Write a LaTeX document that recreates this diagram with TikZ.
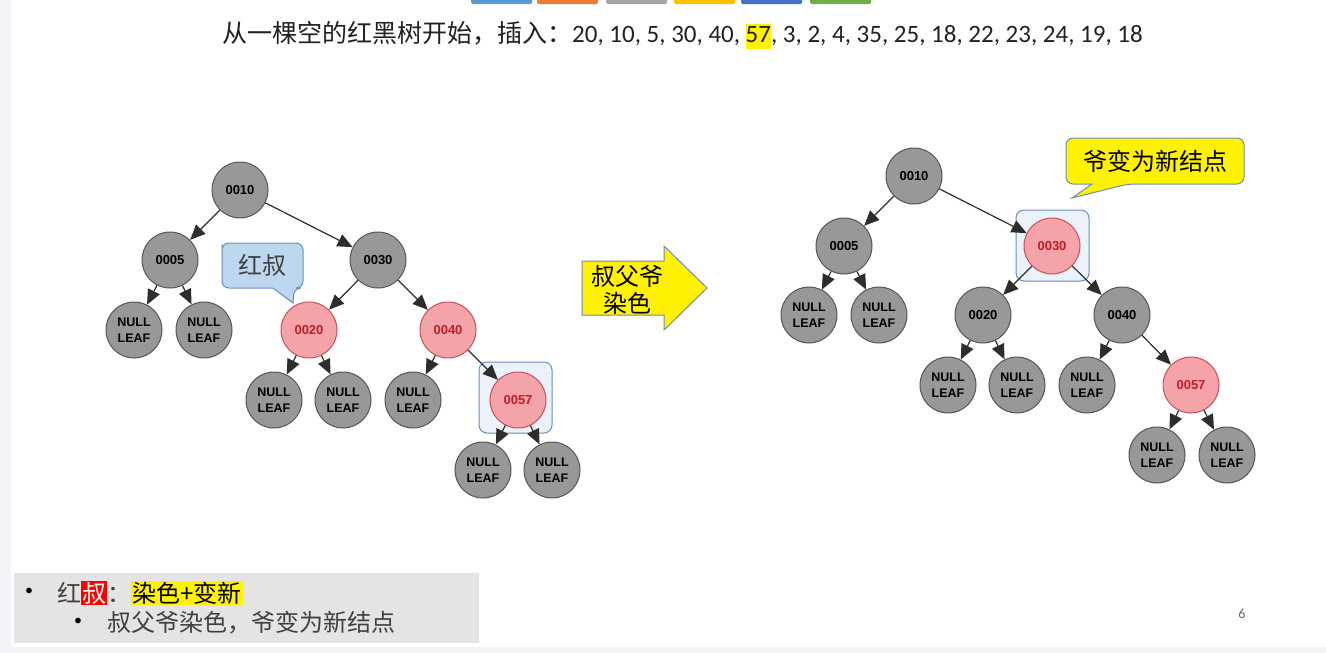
\documentclass[tikz,border=0pt]{standalone}
\usepackage{fontspec}
\setmainfont{Carlito}
\newfontfamily\cjk{Noto Sans CJK SC}
\newfontfamily\lblfont{Liberation Sans}
\usetikzlibrary{arrows.meta}
\definecolor{pagebg}{RGB}{242,244,248}
\definecolor{nodegray}{RGB}{152,152,152}
\definecolor{noderim}{RGB}{85,85,85}
\definecolor{redfill}{RGB}{244,163,168}
\definecolor{redrim}{RGB}{200,80,90}
\definecolor{redtext}{RGB}{190,30,40}
\definecolor{edgeclr}{RGB}{45,45,45}
\definecolor{hiblue}{RGB}{108,142,191}
\definecolor{hifill}{RGB}{236,242,250}
\definecolor{uncleblue}{RGB}{189,215,238}
\definecolor{boxgray}{RGB}{228,228,228}
\definecolor{txtgray}{RGB}{64,64,64}
\definecolor{tabA}{RGB}{91,155,213}\definecolor{tabB}{RGB}{237,125,49}
\definecolor{tabC}{RGB}{165,165,165}\definecolor{tabD}{RGB}{255,192,0}
\definecolor{tabE}{RGB}{68,114,196}\definecolor{tabF}{RGB}{112,173,71}
\begin{document}
\begin{tikzpicture}[x=1pt,y=-1pt,
  rbnode/.style={circle,draw=noderim,fill=nodegray,line width=1pt,minimum size=56pt,inner sep=0pt,align=center,font=\lblfont\bfseries\fontsize{13}{16}\selectfont},
  rednode/.style={rbnode,draw=redrim,fill=redfill,text=redtext},
  leaf/.style={rbnode,font=\lblfont\bfseries\fontsize{12.5}{15.5}\selectfont},
  edge/.style={draw=edgeclr,line width=1.2pt,-{Triangle[length=15pt,width=13pt]}},
  hibox/.style={draw=hiblue,fill=hifill,line width=1pt,rounded corners=8pt},
  cn/.style={inner sep=0pt,font=\cjk\fontsize{24}{27}\selectfont}]
\useasboundingbox(0,0)rectangle(1326,653);
\fill[pagebg](0,0)rectangle(1326,653);\fill[white](11,0)rectangle(1326,647);
\foreach \x/\c in {471/tabA,537/tabB,606/tabC,674/tabD,741/tabE,810/tabF}
  \fill[\c,rounded corners=1.5pt](\x,-3)rectangle+(61,7);
\node[anchor=west,inner sep=0pt,text=black!87,font=\fontsize{25}{28}\selectfont](title)at(222,35)
  {{\cjk 从一棵空的红黑树开始，插入：}20, 10, 5, 30, 40, {\fboxsep=0pt\colorbox{yellow}{\vrule height 18pt depth 7pt width 0pt 57}}, 3, 2, 4, 35, 25, 18, 22, 23, 24, 19, 18};
\draw[hibox](479,362)rectangle(552,433);
\draw[hibox](1016,210)rectangle(1089,281);
\node[rbnode](l10)at(240,190){0010};
\node[rbnode](l5)at(170,260){0005};\node[rbnode](l30)at(378,260){0030};
\node[rednode](l20)at(309,330){0020};\node[rednode](l40)at(448,330){0040};
\node[rednode](l57)at(518,400){0057};
\node[leaf](ln1)at(134,330){NULL\\LEAF};\node[leaf](ln2)at(204,330){NULL\\LEAF};
\node[leaf](ln3)at(274,400){NULL\\LEAF};\node[leaf](ln4)at(343,400){NULL\\LEAF};
\node[leaf](ln5)at(413,400){NULL\\LEAF};
\node[leaf](ln6)at(483,470){NULL\\LEAF};\node[leaf](ln7)at(552,470){NULL\\LEAF};
\foreach \p/\c in {l10/l5,l10/l30,l5/ln1,l5/ln2,l30/l20,l30/l40,l20/ln3,l20/ln4,l40/ln5,l40/l57,l57/ln6,l57/ln7}
  \draw[edge](\p)--(\c);
\node[rbnode](r10)at(914,176){0010};
\node[rbnode](r5)at(844,246){0005};\node[rednode](r30)at(1052,246){0030};
\node[rbnode](r20)at(983,315){0020};\node[rbnode](r40)at(1122,315){0040};
\node[rednode](r57)at(1191,385){0057};
\node[leaf](rn1)at(809,315){NULL\\LEAF};\node[leaf](rn2)at(879,315){NULL\\LEAF};
\node[leaf](rn3)at(948,385){NULL\\LEAF};\node[leaf](rn4)at(1017,385){NULL\\LEAF};
\node[leaf](rn5)at(1087,385){NULL\\LEAF};
\node[leaf](rn6)at(1157,455){NULL\\LEAF};\node[leaf](rn7)at(1227,455){NULL\\LEAF};
\foreach \p/\c in {r10/r5,r10/r30,r5/rn1,r5/rn2,r30/r20,r30/r40,r20/rn3,r20/rn4,r40/rn5,r40/r57,r57/rn6,r57/rn7}
  \draw[edge](\p)--(\c);
\draw[draw=hiblue,fill=uncleblue,line width=1pt](222,251)[rounded corners=7pt]--(222,243)--(303,243)--(303,288)--(294,288)[sharp corners]--(293,303)--(273,288)[rounded corners=7pt]--(222,288)--cycle;
\node[cn,text=txtgray](uncle)at(262,265){红叔};
\draw[draw=hiblue,fill=yellow,line width=1pt](1066,150)[rounded corners=7pt]--(1066,138)--(1244,138)--(1244,184)--(1128,184)[sharp corners]--(1072,198)--(1092,184)[rounded corners=7pt]--(1066,184)--cycle;
\node[cn,text=black](newnode)at(1155,161){爷变为新结点};
\draw[draw=hiblue!80!gray,fill=yellow,line width=1pt](582,261)--(664,261)--(664,246)--(707,288)--(664,330)--(664,315)--(582,315)--cycle;
\node[cn,align=center,text=black](recolor)at(627,290){叔父爷\\染色};
\fill[boxgray](14,573)rectangle(479,643);
\node[font=\fontsize{16}{16}\selectfont](bul1)at(29,592){•};
\node[cn,anchor=west,text=txtgray](line1)at(57,593){红{\fboxsep=1pt\colorbox{red}{\color{white}叔}}：{\fboxsep=1pt\colorbox{yellow}{\color{black}染色+变新}}};
\node[font=\fontsize{16}{16}\selectfont](bul2)at(78,622){•};
\node[cn,anchor=west,text=txtgray](line2)at(107,623){叔父爷染色，爷变为新结点};
\node[text=black!60,font=\fontsize{14}{14}\selectfont](pgno)at(1242,614){6};
\end{tikzpicture}
\end{document}
